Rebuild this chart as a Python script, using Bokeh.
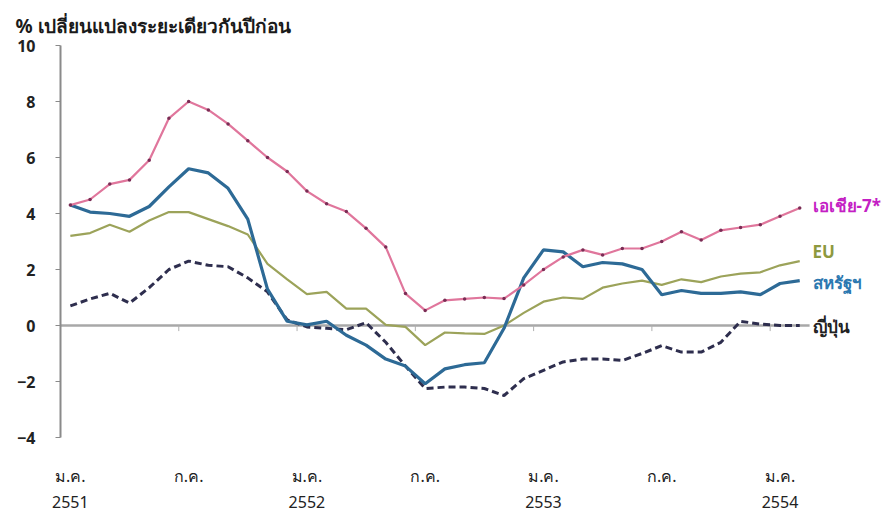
from bokeh.plotting import figure
from bokeh.models import Range1d, FixedTicker
from bokeh.core.properties import value
from bokeh.embed import file_html
from bokeh.resources import INLINE

# Monthly data, Jan 2551 (2008) .. Feb 2554 (2011)
months = list(range(38))
asia7 = [4.3, 4.5, 5.05, 5.2, 5.9, 7.4, 8.0, 7.7, 7.2, 6.6,
         6.0, 5.5, 4.8, 4.35, 4.07, 3.47, 2.8, 1.14, 0.54, 0.9,
         0.95, 1.0, 0.96, 1.45, 2.0, 2.45, 2.7, 2.52, 2.75, 2.75,
         3.0, 3.35, 3.05, 3.4, 3.5, 3.6, 3.9, 4.2]
eu = [3.2, 3.3, 3.6, 3.35, 3.75, 4.05, 4.05, 3.8, 3.55, 3.25,
      2.2, 1.65, 1.12, 1.2, 0.6, 0.6, 0.02, -0.05, -0.7, -0.25,
      -0.28, -0.3, 0.0, 0.45, 0.85, 1.0, 0.95, 1.35, 1.5, 1.6,
      1.45, 1.65, 1.55, 1.75, 1.85, 1.9, 2.15, 2.3]
usa = [4.3, 4.05, 4.0, 3.9, 4.25, 4.95, 5.6, 5.45, 4.9, 3.8,
       1.3, 0.15, 0.02, 0.15, -0.35, -0.7, -1.2, -1.45, -2.08, -1.55,
       -1.4, -1.33, -0.1, 1.7, 2.7, 2.63, 2.1, 2.25, 2.2, 2.0,
       1.1, 1.25, 1.15, 1.15, 1.2, 1.1, 1.5, 1.6]
japan = [0.7, 0.95, 1.15, 0.8, 1.35, 2.0, 2.3, 2.15, 2.1, 1.7,
         1.2, 0.2, -0.05, -0.1, -0.15, 0.1, -0.6, -1.45, -2.25, -2.2,
         -2.2, -2.25, -2.5, -1.9, -1.6, -1.3, -1.2, -1.2, -1.25, -1.0,
         -0.72, -0.95, -0.95, -0.6, 0.15, 0.05, 0.0, 0.0]

tick_months = [0, 6, 12, 18, 24, 30, 36]
tick_labels = ["ม.ค.\n2551", "ก.ค.", "ม.ค.\n2552", "ก.ค.", "ม.ค.\n2553", "ก.ค.", "ม.ค.\n2554"]
y_ticks = [-4, -2, 0, 2, 4, 6, 8, 10]

title_text = "% เปลี่ยนแปลงระยะเดียวกันปีก่อน"
series_names = ["เอเชีย-7*", "EU", "สหรัฐฯ", "ญี่ปุ่น"]

FONT = "Noto Sans"

p = figure(width=884, height=515, output_backend="svg", toolbar_location=None,
           x_range=Range1d(-0.5, 41.3), y_range=Range1d(-4, 10),
           min_border_left=60, min_border_right=0, min_border_top=45,
           min_border_bottom=75)
p.outline_line_color = None
p.grid.visible = False
p.background_fill_color = "white"

p.title.text = title_text
p.title.text_font = FONT
p.title.text_font_size = "19px"
p.title.text_font_style = "bold"
p.title.text_color = "#1a1a1a"
p.title.offset = -45
p.title.standoff = 13

# y axis
p.yaxis.ticker = FixedTicker(ticks=y_ticks)
p.yaxis.axis_line_color = "#8a8a8a"
p.yaxis.axis_line_width = 2
p.yaxis.major_tick_line_color = "#8a8a8a"
p.yaxis.major_tick_in = 0
p.yaxis.major_tick_out = 5
p.yaxis.minor_tick_line_color = None
p.yaxis.major_label_text_font = FONT
p.yaxis.major_label_text_font_size = "16px"
p.yaxis.major_label_text_font_style = "bold"
p.yaxis.major_label_text_color = "#222222"
p.yaxis.major_label_standoff = 20

# x axis (labels only)
p.xaxis.ticker = FixedTicker(ticks=tick_months)
p.xaxis.major_label_overrides = {m: l for m, l in zip(tick_months, tick_labels)}
p.xaxis.axis_line_color = None
p.xaxis.major_tick_line_color = None
p.xaxis.minor_tick_line_color = None
p.xaxis.major_label_text_font = FONT
p.xaxis.major_label_text_font_size = "16px"
p.xaxis.major_label_text_color = "#222222"
p.xaxis.major_label_standoff = 21

# zero line across the data span, with boundary tick marks
n = len(months)
p.line([-0.5, n - 0.5], [0, 0], line_color="#a8a8a8", line_width=2.5)
bounds = [m - 0.5 for m in tick_months[1:]]
p.segment(x0=bounds, y0=[0] * len(bounds), x1=bounds, y1=[-0.2] * len(bounds),
          line_color="#b0b0b0", line_width=1)

# series
p.line(months, eu, line_color="#9ca35a", line_width=2.2)
p.line(months, japan, line_color="#2e2e4e", line_width=3, line_dash="7 4")
p.line(months, usa, line_color="#2d6a96", line_width=3.2)
p.line(months, asia7, line_color="#e0769c", line_width=2.2)
p.scatter(months, asia7, size=3.5, fill_color="#7a2d55", line_color=None)

# end labels
last = n - 1
label_specs = [
    (series_names[0], asia7[-1] + 0.1, "#c41fc4"),
    (series_names[1], eu[-1] + 0.35, "#8e993f"),
    (series_names[2], usa[-1] - 0.05, "#2b78b0"),
    (series_names[3], japan[-1] - 0.05, "#222222"),
]
for txt, yv, col in label_specs:
    p.text(x=[last + 0.65], y=[yv], text=[txt], text_font=value(FONT),
           text_font_size="17px", text_font_style="bold", text_color=col,
           text_align="left", text_baseline="middle")

open("out.html", "w").write(file_html(p, INLINE))
